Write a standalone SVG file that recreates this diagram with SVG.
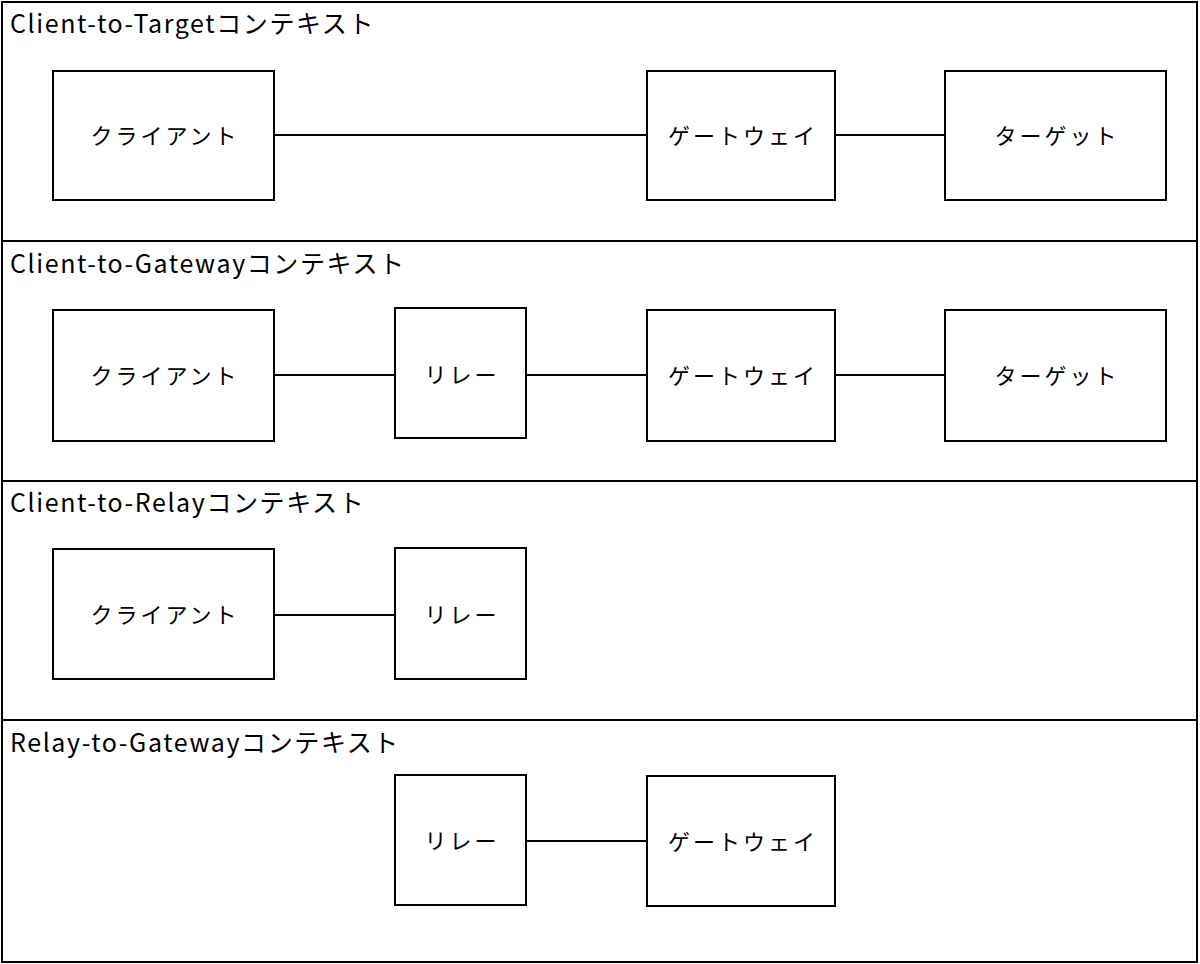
<svg xmlns="http://www.w3.org/2000/svg" width="1200" height="964" viewBox="0 0 1200 964">
<style>
.p{fill:#fff;stroke:#000;stroke-width:2}
.n{fill:#fff;stroke:#000;stroke-width:2}
.t{font-family:"Noto Sans CJK JP","Liberation Sans",sans-serif;font-size:22px;letter-spacing:3px;text-anchor:middle;dominant-baseline:central}
.h{font-family:"Noto Sans CJK JP","Liberation Sans",sans-serif;font-size:25px;letter-spacing:1.6px}
.c{stroke:#000;stroke-width:2}
</style>
<rect width="1200" height="964" fill="#fff"/>
<g id="panels">
<rect class="p" x="2" y="2" width="1195" height="239"/>
<rect class="p" x="2" y="241" width="1195" height="240"/>
<rect class="p" x="2" y="481" width="1195" height="239"/>
<rect class="p" x="2" y="720" width="1195" height="242"/>
<text class="h" x="10" y="33">Client-to-Targetコンテキスト</text>
<text class="h" x="10" y="273">Client-to-Gatewayコンテキスト</text>
<text class="h" x="10" y="512">Client-to-Relayコンテキスト</text>
<text class="h" x="10" y="752">Relay-to-Gatewayコンテキスト</text>
</g>
<g id="connectors">
<line class="c" x1="274" y1="135" x2="647" y2="135"/>
<line class="c" x1="835" y1="135" x2="945" y2="135"/>
<line class="c" x1="274" y1="375" x2="395" y2="375"/>
<line class="c" x1="526" y1="375" x2="647" y2="375"/>
<line class="c" x1="835" y1="375" x2="945" y2="375"/>
<line class="c" x1="274" y1="615" x2="395" y2="615"/>
<line class="c" x1="526" y1="841" x2="647" y2="841"/>
</g>
<g id="n1"><rect class="n" x="53" y="71" width="221" height="129"/><text class="t" x="165" y="134">クライアント</text></g>
<g id="n2"><rect class="n" x="647" y="71" width="188" height="129"/><text class="t" x="743" y="134">ゲートウェイ</text></g>
<g id="n3"><rect class="n" x="945" y="71" width="221" height="129"/><text class="t" x="1057" y="134">ターゲット</text></g>
<g id="n4"><rect class="n" x="53" y="310" width="221" height="131"/><text class="t" x="165" y="374">クライアント</text></g>
<g id="n5"><rect class="n" x="395" y="308" width="131" height="130"/><text class="t" x="462" y="373">リレー</text></g>
<g id="n6"><rect class="n" x="647" y="310" width="188" height="131"/><text class="t" x="743" y="374">ゲートウェイ</text></g>
<g id="n7"><rect class="n" x="945" y="310" width="221" height="131"/><text class="t" x="1057" y="374">ターゲット</text></g>
<g id="n8"><rect class="n" x="53" y="549" width="221" height="130"/><text class="t" x="165" y="613">クライアント</text></g>
<g id="n9"><rect class="n" x="395" y="548" width="131" height="131"/><text class="t" x="462" y="613">リレー</text></g>
<g id="n10"><rect class="n" x="395" y="775" width="131" height="130"/><text class="t" x="462" y="839">リレー</text></g>
<g id="n11"><rect class="n" x="647" y="776" width="188" height="130"/><text class="t" x="743" y="840">ゲートウェイ</text></g>
</svg>
